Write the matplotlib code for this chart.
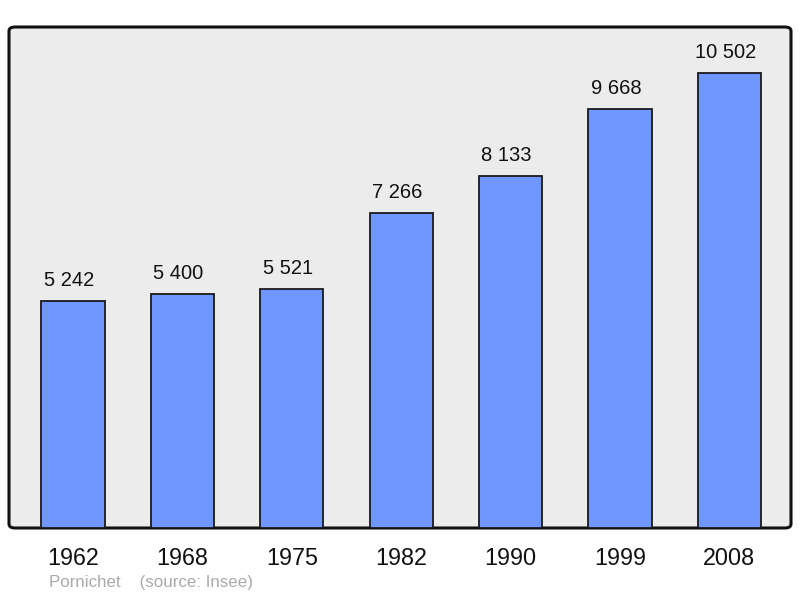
import matplotlib.pyplot as plt
from matplotlib.patches import FancyBboxPatch

years = ["1962", "1968", "1975", "1982", "1990", "1999", "2008"]
population = [5242, 5400, 5521, 7266, 8133, 9668, 10502]
labels = ["5 242", "5 400", "5 521", "7 266", "8 133", "9 668", "10 502"]

plt.rcParams['font.family'] = ['Liberation Sans', 'DejaVu Sans']

fig = plt.figure(figsize=(8, 5.98), dpi=100)
ax = fig.add_axes([9/800, 1-528/598, 782/800, 501/598])
ax.set_xlim(-0.585, 6.563)
ax.set_ylim(0, 11565)

# rounded gray frame
ax.patch.set_visible(False)
for s in ax.spines.values():
    s.set_visible(False)
frame = FancyBboxPatch((0, 0), 1, 1, boxstyle="round,pad=0,rounding_size=0.008",
                       transform=ax.transAxes, facecolor="#ececec",
                       edgecolor="#111111", linewidth=2.2, zorder=0, clip_on=False)
ax.add_patch(frame)

x = range(len(years))
ax.bar(x, population, width=0.577, color="#7096ff", edgecolor="#1a1a1a",
       linewidth=1.3, zorder=2)

for i, v in enumerate(population):
    ax.annotate(labels[i], (i, v), xytext=(-3, 8), textcoords="offset points",
                ha="center", va="bottom", fontsize=14.5, color="#111111")

ax.set_xticks(list(x))
ax.set_xticklabels(years, fontsize=16.8, color="#111111")
ax.tick_params(axis="x", length=0, pad=13.5)
ax.set_yticks([])

fig.text(49/800, 1-583/598, "Pornichet    (source: Insee)", fontsize=12.2,
         color="#aaaaaa", ha="left", va="center")

fig.savefig("out.png", dpi=100)
